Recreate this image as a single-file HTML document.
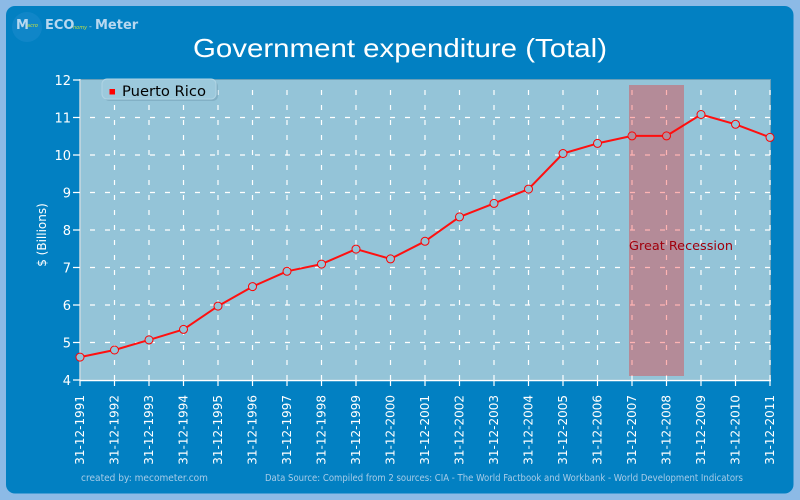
<!DOCTYPE html>
<html><head><meta charset="utf-8"><style>
html,body{margin:0;padding:0;width:800px;height:500px;overflow:hidden;background:#8cbae6;}
svg{display:block;}
</style></head><body>
<svg width="800" height="500" viewBox="0 0 800 500" xmlns="http://www.w3.org/2000/svg">
<rect x="0" y="0" width="800" height="500" fill="#8cbae6"/>
<rect x="6" y="6" width="787.5" height="487.5" rx="9" ry="9" fill="#0280c2"/>
<!-- logo -->
<circle cx="27" cy="27" r="15" fill="#1a8acb" opacity="0.6"/>
<text x="16" y="29" font-family="DejaVu Sans, sans-serif" font-weight="bold" font-size="13" fill="#b8d8f0">M</text>
<text x="27" y="27" font-family="DejaVu Sans, sans-serif" font-style="italic" font-size="5" fill="#c8e040">acro</text>
<text x="45" y="29" font-family="DejaVu Sans, sans-serif" font-weight="bold" font-size="13" fill="#b8d8f0">ECO</text>
<text x="73" y="29" font-family="DejaVu Sans, sans-serif" font-style="italic" font-size="5" fill="#c8e040">nomy</text>
<text x="89" y="29" font-family="DejaVu Sans, sans-serif" font-size="8" fill="#b8d8f0">-</text>
<text x="95" y="29" font-family="DejaVu Sans, sans-serif" font-weight="bold" font-size="13" fill="#b8d8f0">Meter</text>
<!-- title -->
<text x="193" y="57" font-family="Liberation Sans, sans-serif" font-size="26" fill="#ffffff" textLength="414" lengthAdjust="spacingAndGlyphs">Government expenditure (Total)</text>
<!-- plot area -->
<rect x="80" y="79.5" width="690.5" height="300.5" fill="#94c4d8" stroke="#6a9fb8" stroke-width="1"/>
<g stroke="#ffffff" stroke-width="1.2" fill="none" stroke-dasharray="5,10">
<path d="M770 117.5H80M770 155H80M770 192.5H80M770 230H80M770 267.5H80M770 305H80M770 342.5H80"/>
<path d="M114.5 380V80M149 380V80M183.5 380V80M218 380V80M252.5 380V80M287 380V80M321.5 380V80M356 380V80M390.5 380V80M425 380V80M459.5 380V80M494 380V80M528.5 380V80M563 380V80M597.5 380V80M632 380V80M666.5 380V80M701 380V80M735.5 380V80M770 380V80"/>
</g>
<!-- axes -->
<line x1="80" y1="79" x2="80" y2="380" stroke="#c8d8e0" stroke-width="1.5"/>
<line x1="80" y1="380.5" x2="771" y2="380.5" stroke="#ffffff" stroke-width="1.5"/>
<g stroke="#ffffff" stroke-width="1.2">
<path d="M73 80H80M73 117.5H80M73 155H80M73 192.5H80M73 230H80M73 267.5H80M73 305H80M73 342.5H80M73 380H80"/>
<path d="M80 380V386M114.5 380V386M149 380V386M183.5 380V386M218 380V386M252.5 380V386M287 380V386M321.5 380V386M356 380V386M390.5 380V386M425 380V386M459.5 380V386M494 380V386M528.5 380V386M563 380V386M597.5 380V386M632 380V386M666.5 380V386M701 380V386M735.5 380V386M770 380V386"/>
</g>
<!-- y tick labels -->
<g font-family="DejaVu Sans, sans-serif" font-size="13" fill="#ffffff" text-anchor="end">
<text x="71" y="85">12</text>
<text x="71" y="122.5">11</text>
<text x="71" y="160">10</text>
<text x="71" y="197.5">9</text>
<text x="71" y="235">8</text>
<text x="71" y="272.5">7</text>
<text x="71" y="310">6</text>
<text x="71" y="347.5">5</text>
<text x="71" y="385">4</text>
</g>
<text transform="translate(46,235) rotate(-90)" font-family="DejaVu Sans, sans-serif" font-size="12" fill="#ffffff" text-anchor="middle">$ (Billions)</text>
<!-- x labels -->
<g font-family="DejaVu Sans, sans-serif" font-size="12" fill="#ffffff" text-anchor="end">
<text transform="translate(84,395) rotate(-90)">31-12-1991</text>
<text transform="translate(118.5,395) rotate(-90)">31-12-1992</text>
<text transform="translate(153,395) rotate(-90)">31-12-1993</text>
<text transform="translate(187.5,395) rotate(-90)">31-12-1994</text>
<text transform="translate(222,395) rotate(-90)">31-12-1995</text>
<text transform="translate(256.5,395) rotate(-90)">31-12-1996</text>
<text transform="translate(291,395) rotate(-90)">31-12-1997</text>
<text transform="translate(325.5,395) rotate(-90)">31-12-1998</text>
<text transform="translate(360,395) rotate(-90)">31-12-1999</text>
<text transform="translate(394.5,395) rotate(-90)">31-12-2000</text>
<text transform="translate(429,395) rotate(-90)">31-12-2001</text>
<text transform="translate(463.5,395) rotate(-90)">31-12-2002</text>
<text transform="translate(498,395) rotate(-90)">31-12-2003</text>
<text transform="translate(532.5,395) rotate(-90)">31-12-2004</text>
<text transform="translate(567,395) rotate(-90)">31-12-2005</text>
<text transform="translate(601.5,395) rotate(-90)">31-12-2006</text>
<text transform="translate(636,395) rotate(-90)">31-12-2007</text>
<text transform="translate(670.5,395) rotate(-90)">31-12-2008</text>
<text transform="translate(705,395) rotate(-90)">31-12-2009</text>
<text transform="translate(739.5,395) rotate(-90)">31-12-2010</text>
<text transform="translate(774,395) rotate(-90)">31-12-2011</text>
</g>
<!-- series -->
<polyline fill="none" stroke="#ff1010" stroke-width="2" stroke-linejoin="round" points="80,357.1 114.5,350 149,339.9 183.5,329.4 218,306.1 252.5,286.6 287,271.3 321.5,264.1 356,249.1 390.5,258.9 425,241.3 459.5,216.9 494,203.4 528.5,189.1 563,153.5 597.5,143.4 632,135.9 666.5,135.9 701,114.5 735.5,124.3 770,137.4"/>
<g fill="#94c4d8" stroke="#ff0000" stroke-width="1">
<circle cx="80" cy="357.1" r="4"/><circle cx="114.5" cy="350" r="4"/><circle cx="149" cy="339.9" r="4"/><circle cx="183.5" cy="329.4" r="4"/><circle cx="218" cy="306.1" r="4"/><circle cx="252.5" cy="286.6" r="4"/><circle cx="287" cy="271.3" r="4"/><circle cx="321.5" cy="264.1" r="4"/><circle cx="356" cy="249.1" r="4"/><circle cx="390.5" cy="258.9" r="4"/><circle cx="425" cy="241.3" r="4"/><circle cx="459.5" cy="216.9" r="4"/><circle cx="494" cy="203.4" r="4"/><circle cx="528.5" cy="189.1" r="4"/><circle cx="563" cy="153.5" r="4"/><circle cx="597.5" cy="143.4" r="4"/><circle cx="632" cy="135.9" r="4"/><circle cx="666.5" cy="135.9" r="4"/><circle cx="701" cy="114.5" r="4"/><circle cx="735.5" cy="124.3" r="4"/><circle cx="770" cy="137.4" r="4"/>
</g>
<!-- recession band -->
<rect x="629" y="85" width="55" height="291" fill="rgba(255,5,3,0.3)"/>
<text x="629" y="250" font-family="DejaVu Sans, sans-serif" font-size="12.5" fill="#a0000c" textLength="104" lengthAdjust="spacingAndGlyphs">Great Recession</text>
<!-- legend -->
<rect x="104" y="81" width="114" height="20" rx="5" ry="5" fill="#7aa8be" opacity="0.7"/>
<rect x="102" y="79" width="114" height="20" rx="5" ry="5" fill="#9cc9dc" stroke="#b0d4e4" stroke-width="1"/>
<rect x="109.5" y="89" width="5.5" height="5.5" fill="#ff0000"/>
<text x="122" y="96" font-family="DejaVu Sans, sans-serif" font-size="14" fill="#000000" textLength="84" lengthAdjust="spacingAndGlyphs">Puerto Rico</text>
<!-- footer -->
<text x="81" y="481" font-family="DejaVu Sans, sans-serif" font-size="9.5" fill="#a8cce8" textLength="127" lengthAdjust="spacingAndGlyphs">created by: mecometer.com</text>
<text x="265" y="481" font-family="DejaVu Sans, sans-serif" font-size="9.5" fill="#a8cce8" textLength="478" lengthAdjust="spacingAndGlyphs">Data Source: Compiled from 2 sources: CIA - The World Factbook and Workbank - World Development Indicators</text>
</svg>
</body></html>
